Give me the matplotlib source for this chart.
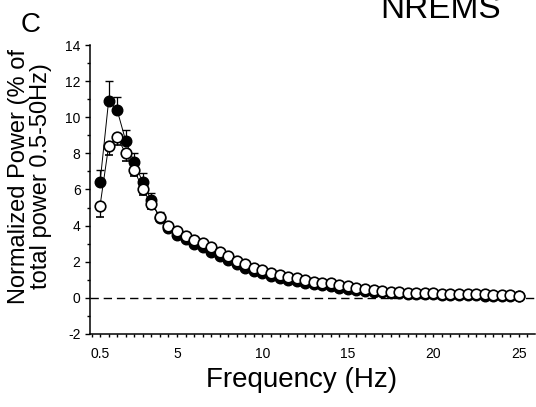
import numpy as np
import matplotlib
matplotlib.use('Agg')
import matplotlib.pyplot as plt
from matplotlib.ticker import MultipleLocator

plt.rcParams['font.family'] = ['Liberation Sans', 'DejaVu Sans']
plt.rcParams['axes.unicode_minus'] = False

# frequency bins (Hz)
freq = np.arange(0.5, 25.01, 0.5)

# filled circles
power_filled = [6.4, 10.9, 10.4, 8.7, 7.5, 6.4, 5.4, 4.4, 3.85, 3.5,
                3.25, 3.0, 2.8, 2.55, 2.3, 2.08, 1.85, 1.65, 1.5, 1.35,
                1.22, 1.1, 1.0, 0.92, 0.83, 0.75, 0.7, 0.63, 0.56, 0.48,
                0.42, 0.37, 0.33, 0.3, 0.27, 0.25, 0.23, 0.21, 0.2, 0.19,
                0.18, 0.17, 0.16, 0.15, 0.14, 0.13, 0.12, 0.11, 0.1, 0.09]
err_filled = [0.7, 1.1, 0.7, 0.6, 0.5, 0.5, 0.4, 0.35, 0.3, 0.3,
              0.25, 0.25, 0.2, 0.2, 0.2, 0.15, 0.15, 0.15, 0.12, 0.12,
              0.1, 0.1, 0.1, 0.08, 0.08, 0.08, 0.07, 0.07, 0.06, 0.06,
              0.05, 0.05, 0.05, 0.04, 0.04, 0.04, 0.04, 0.03, 0.03, 0.03,
              0.03, 0.03, 0.03, 0.02, 0.02, 0.02, 0.02, 0.02, 0.02, 0.02]

# open circles
power_open = [5.1, 8.4, 8.9, 8.0, 7.1, 6.0, 5.2, 4.5, 4.0, 3.7,
              3.45, 3.2, 3.05, 2.8, 2.55, 2.3, 2.05, 1.85, 1.68, 1.52,
              1.4, 1.28, 1.17, 1.08, 0.98, 0.9, 0.85, 0.8, 0.72, 0.63,
              0.55, 0.48, 0.43, 0.38, 0.34, 0.31, 0.29, 0.27, 0.26, 0.25,
              0.24, 0.23, 0.22, 0.21, 0.2, 0.19, 0.18, 0.17, 0.16, 0.12]
err_open = [0.6, 0.5, 0.45, 0.4, 0.35, 0.3, 0.3, 0.25, 0.25, 0.2,
            0.2, 0.2, 0.15, 0.15, 0.15, 0.12, 0.12, 0.1, 0.1, 0.1,
            0.08, 0.08, 0.08, 0.07, 0.07, 0.06, 0.06, 0.05, 0.05, 0.05,
            0.04, 0.04, 0.04, 0.04, 0.03, 0.03, 0.03, 0.03, 0.03, 0.03,
            0.02, 0.02, 0.02, 0.02, 0.02, 0.02, 0.02, 0.02, 0.02, 0.02]

xticks = [0.5, 5, 10, 15, 20, 25]
xtick_labels = ['0.5', '5', '10', '15', '20', '25']

fig = plt.figure(figsize=(5.36, 4.07), dpi=100)
ax = fig.add_axes([0.168, 0.1794, 0.830, 0.710])

ax.axhline(0, color='black', lw=1.0, ls=(0, (6, 3.5)), zorder=1)

zeros = np.zeros(len(freq))
ax.errorbar(freq, power_filled, yerr=[zeros, err_filled], fmt='o', color='black',
            ms=7.6, mfc='black', mec='black', mew=1.0, ecolor='black', elinewidth=0.9,
            capsize=3, capthick=0.9, lw=0.7, ls='-', zorder=3)
ax.errorbar(freq, power_open, yerr=[err_open, zeros], fmt='o', color='black',
            ms=7.6, mfc='white', mec='black', mew=1.2, ecolor='black', elinewidth=0.9,
            capsize=3, capthick=0.9, lw=0.7, ls='-', zorder=4)

ax.set_xlim(-0.085, 25.94)
ax.set_ylim(-2, 14)
ax.set_xticks(xticks)
ax.set_xticklabels(xtick_labels)
ax.xaxis.set_minor_locator(MultipleLocator(0.5))
ax.yaxis.set_major_locator(MultipleLocator(2))
ax.yaxis.set_minor_locator(MultipleLocator(1))

for s in ['top', 'right']:
    ax.spines[s].set_visible(False)
for s in ['left', 'bottom']:
    ax.spines[s].set_linewidth(1.1)

ax.tick_params(axis='x', which='both', direction='out', length=2.5, width=1.0,
               labelsize=10, pad=7)
ax.tick_params(axis='y', which='major', direction='out', length=3.8, width=1.0,
               labelsize=10, pad=3)
ax.tick_params(axis='y', which='minor', direction='out', length=2.2, width=1.0)

ax.set_xlabel('Frequency (Hz)', fontsize=20)
ax.xaxis.set_label_coords(0.476, -0.115)

fig.text(30 / 536, 1 - 176 / 407, 'Normalized Power (% of\ntotal power 0.5-50Hz)',
         fontsize=17, linespacing=0.95, rotation=90, ha='center', va='center')
fig.text(31 / 536, 1 - 32 / 407, 'C', fontsize=20, ha='center', va='baseline')
fig.text(380 / 536, 1 - 18 / 407, 'NREMS', fontsize=24, ha='left', va='baseline')

fig.savefig('out.png', dpi=100)
